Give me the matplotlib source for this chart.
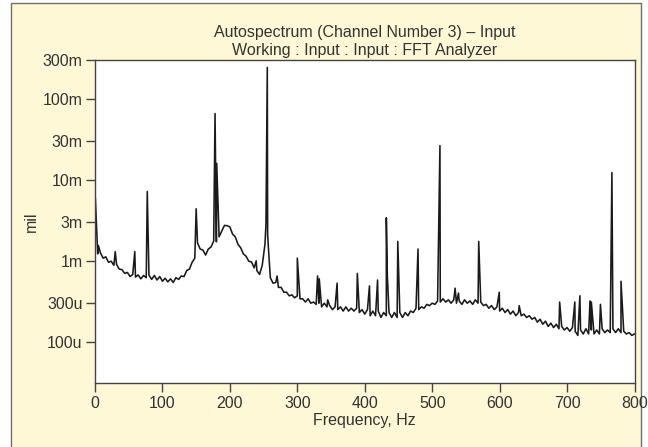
import numpy as np
import matplotlib
matplotlib.use("Agg")
import matplotlib.pyplot as plt
from matplotlib.patches import Rectangle

plt.rcParams["font.family"] = ["Liberation Sans", "DejaVu Sans"]

# broadband floor of the autospectrum, milli-mil, every 4 Hz from 0 to 800 Hz
floor_hz = np.arange(0, 801, 4)
floor_m = [
    1.35, 1.22, 1.26, 1.08, 1.12, 0.96, 0.99, 0.88, 0.90, 0.79,   # 0-36
    0.78, 0.70, 0.72, 0.64, 0.68, 0.63, 0.67, 0.60, 0.66, 0.62,   # 40-76
    0.67, 0.59, 0.66, 0.58, 0.64, 0.56, 0.61, 0.55, 0.60, 0.54,   # 80-116
    0.62, 0.59, 0.65, 0.64, 0.76, 0.79, 0.96, 1.08, 1.66, 1.40,   # 120-156
    1.36, 1.18, 1.40, 1.48, 1.76, 1.72, 1.98, 2.34, 2.74, 2.72,   # 160-196
    2.62, 2.14, 1.98, 1.60, 1.45, 1.22, 1.14, 0.99, 0.97, 0.82,   # 200-236
    0.76, 0.68, 0.88, 1.60, 2.10, 0.62, 0.53, 0.54, 0.47, 0.47,   # 240-276
    0.41, 0.41, 0.37, 0.38, 0.35, 0.37, 0.34, 0.34, 0.31, 0.34,   # 280-316
    0.30, 0.31, 0.29, 0.30, 0.27, 0.30, 0.27, 0.28, 0.25, 0.27,   # 320-356
    0.25, 0.27, 0.24, 0.27, 0.24, 0.26, 0.24, 0.26, 0.23, 0.25,   # 360-396
    0.22, 0.25, 0.21, 0.24, 0.21, 0.24, 0.20, 0.23, 0.21, 0.23,   # 400-436
    0.20, 0.23, 0.20, 0.23, 0.20, 0.23, 0.21, 0.24, 0.23, 0.26,   # 440-476
    0.25, 0.27, 0.26, 0.29, 0.28, 0.30, 0.29, 0.32, 0.31, 0.34,   # 480-516
    0.31, 0.33, 0.30, 0.33, 0.30, 0.32, 0.29, 0.33, 0.30, 0.32,   # 520-556
    0.29, 0.33, 0.30, 0.31, 0.28, 0.29, 0.26, 0.28, 0.25, 0.27,   # 560-596
    0.24, 0.26, 0.23, 0.25, 0.22, 0.24, 0.21, 0.23, 0.21, 0.22,   # 600-636
    0.20, 0.21, 0.19, 0.20, 0.175, 0.19, 0.165, 0.18, 0.155, 0.17,  # 640-676
    0.15, 0.165, 0.145, 0.155, 0.14, 0.15, 0.135, 0.15, 0.135, 0.12,  # 680-716
    0.14, 0.125, 0.145, 0.125, 0.14, 0.125, 0.14, 0.125, 0.145, 0.13,  # 720-756
    0.14, 0.13, 0.145, 0.13, 0.145, 0.13, 0.135, 0.125, 0.13, 0.12,   # 760-796
    0.125,                                                           # 800
]

# discrete tones riding on the floor, Hz and milli-mil
tone_hz = [0.5, 5, 30, 59, 77.5, 150, 178, 180.5, 239, 253.5, 255.5,
           257.5, 270, 300, 330, 332.5, 345, 359, 389, 407, 419, 432,
           433.5, 449, 479, 511.5, 534, 539, 569, 599.5, 629, 689,
           711.5, 719, 734, 736, 749.5, 766.5, 780]
tone_m = [6.0, 1.55, 1.3, 1.3, 7.2, 4.4, 66.0, 16.0, 1.0, 2.8, 245.0,
          1.3, 0.65, 1.08, 0.65, 0.6, 0.33, 0.53, 0.7, 0.49, 0.58, 3.4,
          0.65, 1.74, 1.4, 26.5, 0.46, 0.4, 1.74, 0.41, 0.28, 0.31,
          0.31, 0.37, 0.32, 0.31, 0.29, 12.3, 0.56]

y_ticks = [300e-3, 100e-3, 30e-3, 10e-3, 3e-3, 1e-3, 300e-6, 100e-6]
y_tick_labels = ["300m", "100m", "30m", "10m", "3m", "1m", "300u", "100u"]
x_ticks = [0, 100, 200, 300, 400, 500, 600, 700, 800]

freq = np.concatenate([floor_hz, tone_hz])
level = np.concatenate([floor_m, tone_m]) * 1e-3
order = np.argsort(freq, kind="stable")
freq, level = freq[order], level[order]

cream = "#fef8d6"
ink = "#333333"

fig = plt.figure(figsize=(6.48, 4.47), dpi=100, facecolor="white")
fig.patches.append(Rectangle((11 / 648, -0.02), 630 / 648, 1.0 - 3 / 447 + 0.02,
                             transform=fig.transFigure, facecolor=cream,
                             edgecolor="#707070", linewidth=1.0, zorder=-10))

ax = fig.add_axes([95 / 648, 64 / 447, 539.5 / 648, 322.7 / 447])
ax.set_facecolor("white")
ax.plot(freq, level, color="#1a1a1a", linewidth=1.15)

ax.set_yscale("log")
ax.set_xlim(0, 800)
ax.set_ylim(31e-6, 300e-3)
ax.set_yticks(y_ticks)
ax.set_yticklabels(y_tick_labels)
ax.yaxis.set_minor_locator(matplotlib.ticker.NullLocator())
ax.set_xticks(x_ticks)

for s in ax.spines.values():
    s.set_color("#444444")
    s.set_linewidth(1.0)
ax.tick_params(axis="both", direction="out", length=6.5, width=1.0,
               color="#444444", labelcolor=ink, labelsize=11.5, pad=2.5)

ax.set_xlabel("Frequency, Hz", fontsize=11.5, color=ink, labelpad=2)
ax.set_ylabel("mil", fontsize=11.5, color=ink, labelpad=3)

ax.set_title("Autospectrum (Channel Number 3) \u2013 Input\n"
             "Working : Input : Input : FFT Analyzer",
             fontsize=11.5, color=ink, linespacing=1.2, pad=4)

fig.savefig("out.png", dpi=100, facecolor="white")
